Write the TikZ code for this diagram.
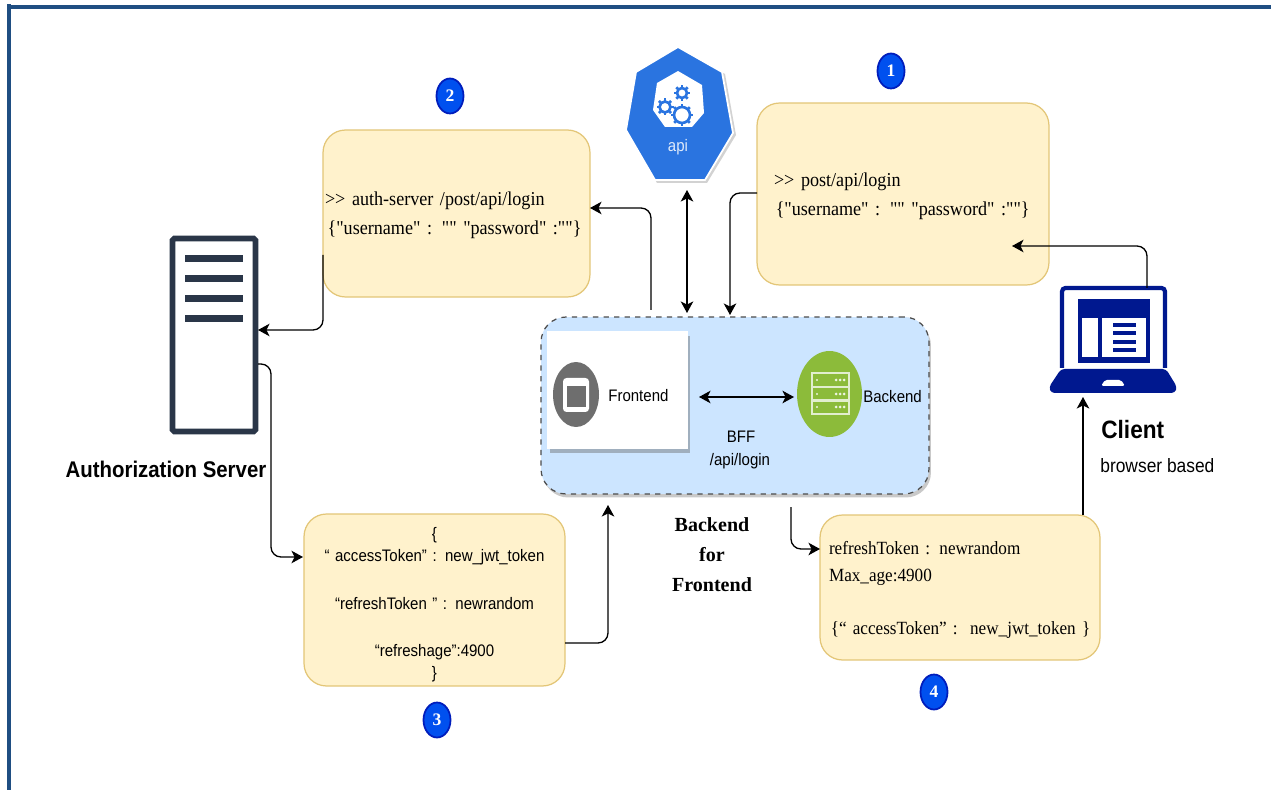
\documentclass[tikz,border=0pt]{standalone}
\usepackage{fontspec}
\setmainfont{Liberation Serif}
\setsansfont{Liberation Sans}[FakeStretch=0.9]
\newfontfamily\notefont{Liberation Serif}[FakeStretch=0.92]
\usetikzlibrary{arrows.meta,shapes.geometric,shadows}
\definecolor{frameblue}{HTML}{1F4E82}
\definecolor{noteyellow}{HTML}{FFF2CC}
\definecolor{noteedge}{HTML}{E3C677}
\definecolor{bffblue}{HTML}{CCE5FF}
\definecolor{badgeblue}{HTML}{0050EF}
\definecolor{badgeedge}{HTML}{001DBC}
\definecolor{apiblue}{HTML}{2A74E0}
\definecolor{serverdark}{HTML}{2A3648}
\definecolor{laptopblue}{HTML}{00188F}
\definecolor{backgreen}{HTML}{8CBB3A}
\tikzset{
	note/.style={draw=noteedge,fill=noteyellow,line width=0.7pt,rounded corners=0.45cm,font=\notefont\fontsize{11.2}{13}\selectfont,inner ysep=0pt},
	badge/.style={ellipse,draw=badgeedge,fill=badgeblue,line width=1pt,text=white,inner sep=0pt,minimum width=0.54cm,minimum height=0.7cm,font=\fontsize{10}{12}\selectfont\bfseries},
	link/.style={draw=black,line width=0.75pt,rounded corners=0.2cm,-{Stealth[length=0.23cm,width=0.25cm,inset=0.06cm]}},
	dualarrow/.style={draw=black,line width=0.75pt,{Stealth[length=0.23cm,width=0.25cm,inset=0.06cm]}-{Stealth[length=0.23cm,width=0.25cm,inset=0.06cm]}},
	label/.style={font=\sffamily\fontsize{9.5}{11}\selectfont,inner sep=0pt},
}
\begin{document}
\begin{tikzpicture}[x=0.02cm,y=-0.02cm]
	\useasboundingbox (0,0) rectangle (1271,790);
	\fill[white] (0,0) rectangle (1271,790);
	% frame
	\fill[frameblue] (7,4) rectangle (11,790);
	\fill[frameblue] (7,5) rectangle (1271,9);

	% notes
	\node[note,minimum width=5.84cm,minimum height=3.64cm,text width=5.16cm,inner xsep=0.34cm,align=left] (postnote) at (903,194)
		{\rule{0pt}{10pt}>> post/api/login\\[3.5pt]\hspace*{1pt}\{"username" : "" "password" :""\}};
	\node[note,minimum width=5.34cm,minimum height=3.34cm,text width=5.26cm,inner xsep=0.04cm,align=left] (authnote) at (456.5,213.5)
		{\rule{0pt}{10pt}>> auth-server /post/api/login\\[3.5pt]\hspace*{1.5pt}\{"username" : "" "password" :""\}};
	\node[note,minimum width=5.22cm,minimum height=3.44cm,text width=5.1cm,inner xsep=0.06cm,align=center,font=\sffamily\fontsize{9.5}{13.5}\selectfont] (tokennote) at (434.5,600)
		{\rule{0pt}{12pt}\{\\[-0.5pt]“ accessToken” : new\_jwt\_token\\[13.4pt]“refreshToken ” : newrandom\\[13.4pt]“refreshage”:4900\\[-1pt]\}};
	\node[note,minimum width=5.6cm,minimum height=2.9cm,text width=5.24cm,inner xsep=0.18cm,align=left,font=\notefont\fontsize{10.6}{15.3}\selectfont] (cookienote) at (960,587.5)
		{\rule{0pt}{10.3pt}refreshToken : newrandom\\Max\_age:4900\\[15.3pt]\hspace*{1pt}\{“ accessToken” :\ \ new\_jwt\_token \}};

	% badges
	\node[badge] (stepone) at (891,71) {1};
	\node[badge] (steptwo) at (450,96) {2};
	\node[badge] (stepthree) at (437,720) {3};
	\node[badge] (stepfour) at (934,692) {4};

	% api service
	\fill[gray!35] (680,49) -- (725,74) -- (736,135) -- (707,183) -- (657,183) -- (628,132) -- (638,74) -- cycle;
	\filldraw[draw=white,line width=1pt,fill=apiblue] (678,47) -- (722,72) -- (733,133) -- (705,180) -- (655,180) -- (626,130) -- (636,72) -- cycle;
	\fill[white] (678,71) -- (702,85) -- (704,113) -- (692,127) -- (665,127) -- (653,110) -- (657,83) -- cycle;
	\foreach \gx/\gy/\gr in {665/107/5.5,682/93/5,682/115/8}
	{
		\draw[apiblue,line width=1.5pt] (\gx,\gy) circle [radius=\gr];
		\foreach \angle in {0,45,...,315}
			\draw[apiblue,line width=1.5pt] (\gx,\gy) ++(\angle:\gr) -- ++(\angle:3);
	}
	\node[font=\sffamily\fontsize{9.5}{11}\selectfont,text=white!85!apiblue,inner sep=0pt] (api) at (678,147) {api};
	\coordinate (apibottom) at (687,190);

	% bff panel
	\node[draw=black!70,dashed,fill=bffblue,line width=0.7pt,rounded corners=0.5cm,minimum width=7.76cm,minimum height=3.54cm,
		drop shadow={shadow xshift=0.04cm,shadow yshift=-0.07cm,opacity=0.35,fill=black!60}] (bff) at (735,405.5) {};
	\node[fill=white,draw=white,minimum width=2.8cm,minimum height=2.34cm,
		drop shadow={shadow xshift=0.06cm,shadow yshift=-0.1cm,opacity=1,fill=black!15!bffblue!70!gray}] (frontbox) at (617,389.5) {};
	\node[ellipse,fill=black!57,minimum width=0.92cm,minimum height=1.3cm,inner sep=0pt] (fronticon) at (576,394.5) {};
	\fill[white,rounded corners=2pt] (563,378) rectangle (589,412);
	\fill[black!57] (566.5,386) rectangle (585.5,407);
	\node[label,anchor=west] (frontlabel) at (608,396) {Frontend};
	\node[ellipse,fill=backgreen,minimum width=1.3cm,minimum height=1.72cm,inner sep=0pt] (backicon) at (829.5,394) {};
	\foreach \rowy in {373,387,400}
	{
		\draw[white!75!backgreen,line width=0.7pt] (812,\rowy) rectangle (849,\rowy+14);
		\fill[white!85!backgreen] (817,\rowy+7) circle [radius=1.2];
		\foreach \dotx in {836,840,844}
			\fill[white!85!backgreen] (\dotx,\rowy+7) circle [radius=1.5];
	}
	\node[label,anchor=west] (backlabel) at (863,397) {Backend};
	\node[label] (bfflabel) at (741,437) {BFF};
	\node[label] (pathlabel) at (740,461) {/api/login};
	\node[font=\bfseries\fontsize{11.4}{17}\selectfont,align=center,inner sep=0pt] (bfftitle) at (712,555) {Backend\\for\\Frontend};

	% authorization server
	\draw[serverdark,line width=3.2pt,rounded corners=1pt] (172.5,238.5) rectangle (255.5,431.5);
	\foreach \liney in {259,279,299,319}
		\fill[serverdark] (185,\liney-3.5) rectangle (243,\liney+3.5);
	\node[font=\sffamily\bfseries\fontsize{12.9}{15}\selectfont,inner sep=0pt] (authlabel) at (166,469) {Authorization Server};

	% laptop
	\draw[laptopblue,line width=2.4pt,rounded corners=2pt] (1062,368) -- (1062,288) -- (1165,288) -- (1165,368);
	\fill[laptopblue] (1078,299) rectangle (1150,363);
	\fill[white] (1082,318) rectangle (1098,357);
	\fill[white] (1102,318) rectangle (1146,357);
	\foreach \liney in {325,333,342,350}
		\fill[laptopblue] (1113,\liney-2) rectangle (1136,\liney+2);
	\fill[laptopblue,rounded corners=2pt] (1061,369) -- (1166,369) -- (1177,387) -- (1175,393) -- (1051,393) -- (1049,387) -- cycle;
	\fill[white,rounded corners=1pt] (1105,380) -- (1121,380) -- (1125,386) -- (1101,386) -- cycle;
	\node[font=\sffamily\bfseries\fontsize{14.3}{17}\selectfont,anchor=west,inner sep=0pt] (clientlabel) at (1101,430) {Client};
	\node[font=\sffamily\fontsize{11}{13}\selectfont,anchor=west,inner sep=0pt] (browserlabel) at (1100,466) {browser based};

	% connector ends
	\coordinate (authout) at (323,255);
	\coordinate (serverin) at (258,330);
	\coordinate (serverout) at (258,364);
	\coordinate (tokenin) at (303,557);
	\coordinate (tokenout) at (565,643);
	\coordinate (bffin) at (608,505);
	\coordinate (bffout) at (791,507);
	\coordinate (cookiein) at (820,549);
	\coordinate (cookieout) at (1083,515);
	\coordinate (laptopin) at (1083,397);
	\coordinate (laptopout) at (1147,288);
	\coordinate (postin) at (1012,246);
	\coordinate (postout) at (757,193);
	\coordinate (bfftop) at (730,315);
	\coordinate (bffup) at (651,310);
	\coordinate (authin) at (590,208);
	\coordinate (apitarget) at (687,313);
	\coordinate (frontarrow) at (699,397);
	\coordinate (backarrow) at (794,397);

	% connectors
	\draw[link] (authout) |- (serverin);
	\draw[link] (serverout) -| (271,557) -- (tokenin);
	\draw[link] (tokenout) -| (bffin);
	\draw[link] (bffout) |- (cookiein);
	\draw[link] (cookieout) -- (laptopin);
	\draw[link] (laptopout) |- (postin);
	\draw[link] (postout) -| (bfftop);
	\draw[link] (bffup) |- (authin);
	\draw[dualarrow] (apibottom) -- (apitarget);
	\draw[dualarrow] (frontarrow) -- (backarrow);
\end{tikzpicture}
\end{document}
